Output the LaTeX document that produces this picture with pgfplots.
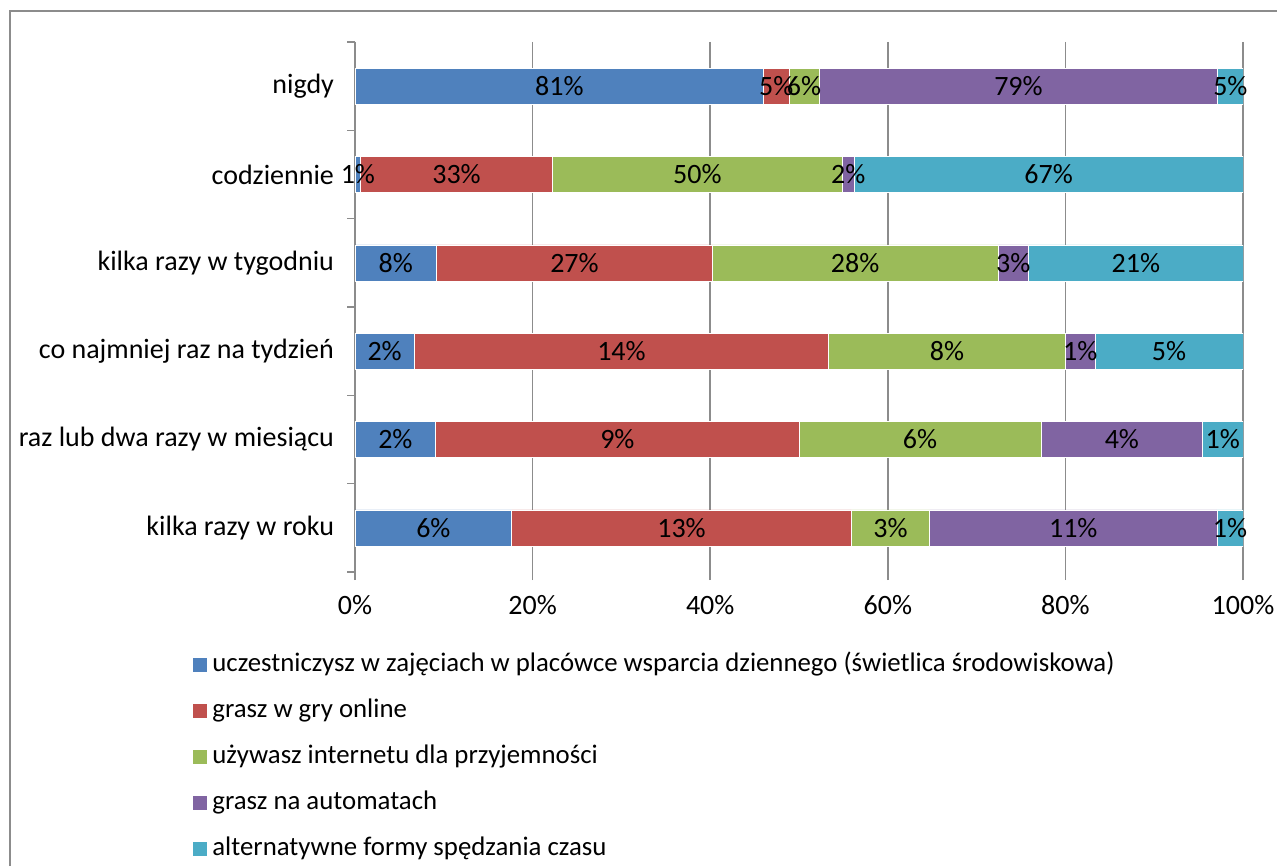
\documentclass[border=0pt]{standalone}
\usepackage{pgfplots}
\pgfplotsset{compat=1.18}
\usepackage{pgfplotstable}
\usepackage{fontspec}
\setmainfont{Carlito}
\definecolor{cA}{HTML}{4F81BD}
\definecolor{cB}{HTML}{C0504D}
\definecolor{cC}{HTML}{9BBB59}
\definecolor{cD}{HTML}{8064A2}
\definecolor{cE}{HTML}{4BACC6}
\definecolor{gridc}{HTML}{8C8C8C}

% y: 0 nigdy, 1 codziennie, 2 kilka razy w tygodniu, 3 co najmniej raz na tydzien,
% 4 raz lub dwa razy w miesiacu, 5 kilka razy w roku
% x = share of the row (%), lab = value shown on the bar (%)
\pgfplotstableread{
y x lab
0 46.02 81
1 0.65 1
2 9.20 8
3 6.67 2
4 9.09 2
5 17.65 6
}\sA
\pgfplotstableread{
y x lab
0 2.84 5
1 21.57 33
2 31.03 27
3 46.67 14
4 40.91 9
5 38.24 13
}\sB
\pgfplotstableread{
y x lab
0 3.41 6
1 32.68 50
2 32.18 28
3 26.67 8
4 27.27 6
5 8.82 3
}\sC
\pgfplotstableread{
y x lab
0 44.89 79
1 1.31 2
2 3.45 3
3 3.33 1
4 18.18 4
5 32.35 11
}\sD
\pgfplotstableread{
y x lab
0 2.84 5
1 43.79 67
2 24.14 21
3 16.66 5
4 4.55 1
5 2.94 1
}\sE

\begin{document}
\begin{tikzpicture}[font=\fontsize{14}{17}\selectfont]
\begin{axis}[
  at={(177.5pt,147pt)}, anchor=south west,
  scale only axis, width=444pt, height=265pt,
  xbar stacked, bar width=18pt,
  xmin=0, xmax=100, ymin=-0.5, ymax=5.5, y dir=reverse,
  xtick={0,20,40,60,80,100},
  xticklabels={0\%,20\%,40\%,60\%,80\%,100\%},
  ytick={0,1,2,3,4,5},
  yticklabels={nigdy,codziennie,kilka razy w tygodniu,co najmniej raz na tydzień,raz lub dwa razy w miesiącu,kilka razy w roku},
  minor ytick={-0.5,0.5,1.5,2.5,3.5,4.5,5.5},
  axis lines*=left,
  x axis line style={draw=none},
  y axis line style={draw=gridc, line width=0.75pt, -},
  xmajorgrids,
  major x grid style={draw=gridc, line width=0.75pt},
  tick align=outside,
  major tick length=4pt, minor tick length=4pt,
  major x tick style={draw=gridc, line width=0.75pt},
  major y tick style={draw=none},
  minor y tick style={draw=gridc, line width=0.75pt},
  yticklabel style={xshift=-3pt},
  xticklabel style={yshift=-4pt},
  point meta=explicit symbolic,
  nodes near coords={\pgfplotspointmeta\%},
  every node near coord/.append style={anchor=center, text=black},
  legend style={at={(-0.191,-0.142)}, anchor=north west, draw=none, fill=none,
    legend columns=1, row sep=10pt, column sep=2.5pt,
    font=\fontsize{13.4}{16}\selectfont,
    nodes={inner sep=0pt, text height=10pt, text depth=3pt}},
  legend cell align=left,
  legend image code/.code={\fill[#1] (0pt,-3.75pt) rectangle (7.5pt,3.75pt);},
]
\addplot[fill=cA, draw=white, line width=0.3pt] table[x=x, y=y, meta=lab]{\sA};
\addlegendentry{uczestniczysz w zajęciach w placówce wsparcia dziennego (świetlica środowiskowa)}
\addplot[fill=cB, draw=white, line width=0.3pt] table[x=x, y=y, meta=lab]{\sB};
\addlegendentry{grasz w gry online}
\addplot[fill=cC, draw=white, line width=0.3pt] table[x=x, y=y, meta=lab]{\sC};
\addlegendentry{używasz internetu dla przyjemności}
\addplot[fill=cD, draw=white, line width=0.3pt] table[x=x, y=y, meta=lab]{\sD};
\addlegendentry{grasz na automatach}
\addplot[fill=cE, draw=white, line width=0.3pt] table[x=x, y=y, meta=lab]{\sE};
\addlegendentry{alternatywne formy spędzania czasu}
\end{axis}
\draw[gridc, line width=0.75pt] (5pt,0pt) -- (5pt,427.5pt) -- (638.5pt,427.5pt);
\pgfresetboundingbox
\useasboundingbox (0pt,0pt) rectangle (638.5pt,433pt);
\end{tikzpicture}
\end{document}
